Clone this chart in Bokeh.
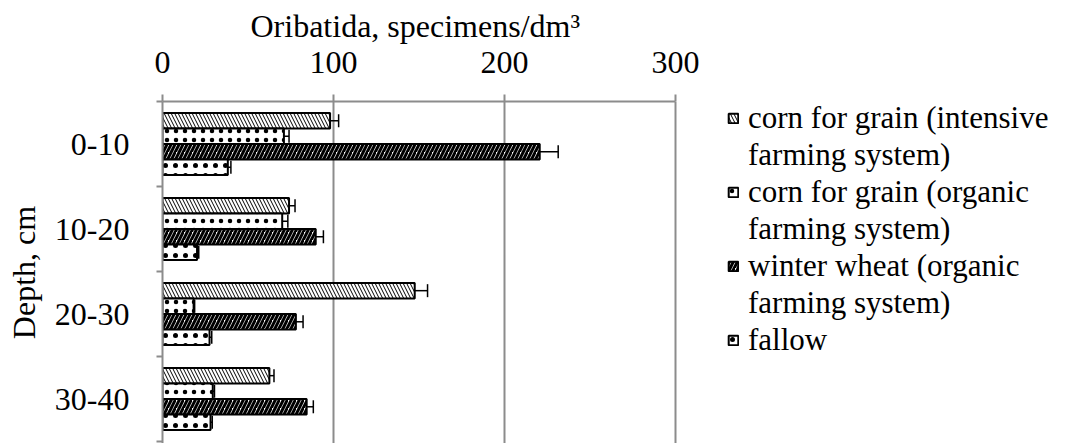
from bokeh.plotting import figure
from bokeh.models import (Range1d, FixedTicker, Whisker, TeeHead, ColumnDataSource,
                          Legend, LegendItem)
from bokeh.embed import file_html
from bokeh.resources import INLINE

# ---- data ----
depths = ["0-10", "10-20", "20-30", "30-40"]
series_names = [
    ["corn for grain (intensive", "farming system)"],
    ["corn for grain (organic", "farming system)"],
    ["winter wheat (organic", "farming system)"],
    ["fallow"],
]
corn_intensive = [98, 74, 147.5, 62.5]
corn_intensive_err = [5, 3.5, 7.5, 2.7]
corn_organic = [71, 70, 18.2, 29.4]
corn_organic_err = [3, 3.3, 0.6, 1]
winter_wheat = [220.6, 89.6, 78, 84.3]
winter_wheat_err = [10.8, 4.5, 4.2, 3.9]
fallow = [38.2, 20.2, 27.5, 28.1]
fallow_err = [1.8, 1, 1.3, 1]
x_ticks = [0, 100, 200, 300]
x_title = "Oribatida, specimens/dm³"
y_title = "Depth, cm"

values = [corn_intensive, corn_organic, winter_wheat, fallow]
errors = [corn_intensive_err, corn_organic_err, winter_wheat_err, fallow_err]

# ---- style ----
FONT = "Liberation Serif"
FS = "32px"
TXT = "black"
GRID = "#8c8c8c"
bar_h = 0.183
offsets = [-1.5 * bar_h, -0.5 * bar_h, 0.5 * bar_h, 1.5 * bar_h]
hatches = [
    dict(hatch_pattern="\\", hatch_scale=7, hatch_weight=1),
    dict(hatch_pattern=".", hatch_scale=9, hatch_weight=0.5),
    dict(hatch_pattern="/", hatch_scale=8, hatch_weight=3),
    dict(hatch_pattern=".", hatch_scale=10, hatch_weight=1.5),
]

LEFT, TOP, W, H = 162, 101, 1065, 443
axis_px = 513                      # pixels spanned by 0..300
frame_w = W - LEFT
x_end = x_ticks[-1] * frame_w / axis_px
frame_h = H - TOP
y_end = frame_h / 85.0

p = figure(width=W, height=H, x_range=Range1d(0, x_end), y_range=Range1d(y_end, 0),
           output_backend="svg", toolbar_location=None, x_axis_location="above",
           min_border_left=LEFT, min_border_right=0, min_border_top=TOP, min_border_bottom=0)
p.outline_line_color = None
p.background_fill_color = "white"

# title centred over the 0..300 axis span
p.title.text = x_title
p.title.text_font = FONT
p.title.text_font_size = FS
p.title.text_font_style = "normal"
p.title.text_color = TXT
p.title.align = "left"
p.title.offset = 88
p.title.standoff = 10

items = []
dummy = p.hbar(y=[], right=[], left=0, height=bar_h, fill_alpha=0, line_alpha=0)
for k, (vals, errs) in enumerate(zip(values, errors)):
    ys = [i + 0.5 + offsets[k] for i in range(len(depths))]
    src = ColumnDataSource(dict(y=ys, right=vals,
                                lower=[v - e for v, e in zip(vals, errs)],
                                upper=[v + e for v, e in zip(vals, errs)]))
    r = p.hbar(y="y", right="right", left=0, height=bar_h, source=src,
               fill_color="white", line_color="black", line_width=2,
               hatch_color="black", **hatches[k])
    w = Whisker(source=src, base="y", lower="lower", upper="upper", dimension="width",
                line_color="black", line_width=1.5,
                lower_head=TeeHead(size=13, line_color="black", line_width=1.5),
                upper_head=TeeHead(size=13, line_color="black", line_width=1.5))
    p.add_layout(w)
    lines = series_names[k]
    items.append(LegendItem(label=lines[0], renderers=[r]))
    for extra in lines[1:]:
        items.append(LegendItem(label=extra, renderers=[dummy]))

# x axis (top)
xa = p.xaxis[0]
xa.bounds = (x_ticks[0], x_ticks[-1])
xa.ticker = FixedTicker(ticks=x_ticks)
xa.major_label_text_font = FONT
xa.major_label_text_font_size = FS
xa.major_label_text_color = TXT
xa.major_label_standoff = 22
xa.axis_line_color = GRID
xa.axis_line_width = 2
xa.major_tick_line_color = GRID
xa.major_tick_line_width = 2
xa.major_tick_out = 7
xa.major_tick_in = 0
xa.minor_tick_line_color = None

# y axis (left)
ya = p.yaxis[0]
ya.ticker = FixedTicker(ticks=[i + 0.5 for i in range(len(depths))],
                        minor_ticks=list(range(len(depths) + 1)))
ya.major_label_overrides = {i + 0.5: d for i, d in enumerate(depths)}
ya.axis_label = y_title
ya.axis_label_text_font = FONT
ya.axis_label_text_font_size = FS
ya.axis_label_text_font_style = "normal"
ya.axis_label_text_color = TXT
ya.axis_label_standoff = 10
ya.major_label_text_font = FONT
ya.major_label_text_font_size = FS
ya.major_label_text_color = TXT
ya.major_label_standoff = 27
ya.axis_line_color = GRID
ya.axis_line_width = 2
ya.major_tick_out = 0
ya.major_tick_in = 0
ya.major_tick_line_color = None
ya.minor_tick_line_color = GRID
ya.minor_tick_line_width = 2
ya.minor_tick_out = 6
ya.minor_tick_in = 0

p.xgrid.ticker = FixedTicker(ticks=x_ticks)
p.xgrid.bounds = (x_ticks[0], x_ticks[-1])
p.xgrid.grid_line_color = GRID
p.xgrid.grid_line_width = 2
p.ygrid.grid_line_color = None

legend = Legend(items=items, location=(565, 85), orientation="vertical",
                label_text_font=FONT, label_text_font_size="31px", label_text_color=TXT,
                label_height=37, glyph_width=12, glyph_height=12, label_standoff=9,
                spacing=0, padding=0, margin=0,
                border_line_color=None, background_fill_alpha=0)
p.add_layout(legend)

open("out.html", "w").write(file_html(p, INLINE))
